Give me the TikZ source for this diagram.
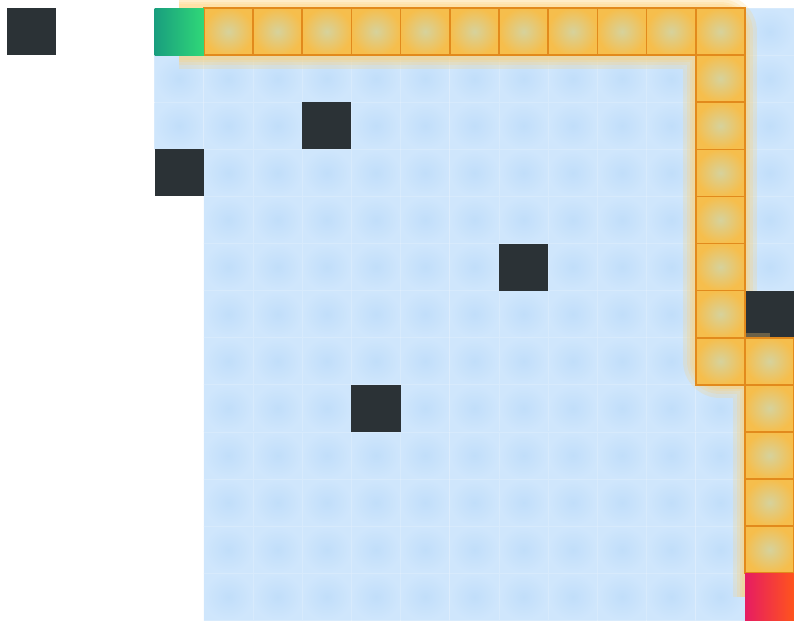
\documentclass[tikz,border=0pt]{standalone}
\usetikzlibrary{calc}
\definecolor{blueOut}{RGB}{207,230,252}
\definecolor{blueIn}{RGB}{193,222,250}
\definecolor{orOut}{RGB}{246,190,76}
\definecolor{orIn}{RGB}{214,210,156}
\definecolor{orLine}{RGB}{226,138,28}
\definecolor{glowC}{RGB}{255,208,115}
\definecolor{wallC}{RGB}{43,50,54}
\definecolor{startA}{RGB}{25,158,126}
\definecolor{startB}{RGB}{48,216,120}
\definecolor{endA}{RGB}{230,28,98}
\definecolor{endB}{RGB}{255,84,28}
\begin{document}
\begin{tikzpicture}[x=1pt,y=-1pt]
\def\cw{49.2}\def\ch{47.1}\def\ox{7}\def\oy{8}
\tikzset{
  cell/.style={minimum width=\cw pt, minimum height=\ch pt, inner sep=0pt, outer sep=0pt, anchor=north west},
  freecell/.style={cell, inner color=blueIn, outer color=blueOut, draw=white, draw opacity=0.18, line width=0.8pt},
  pathcell/.style={cell, inner color=orIn, outer color=orOut, draw=orLine, line width=1.6pt},
  wallcell/.style={cell, fill=wallC},
  startcell/.style={cell, left color=startA, right color=startB},
  endcell/.style={cell, shading=axis, shading angle=60, left color=endA, right color=endB},
  glow/.style={draw=glowC, line join=round, line cap=butt, opacity=0.22}
}
\useasboundingbox (0,0) rectangle (794,624);
% explored (light blue) region
\foreach \r in {1,2}{
  \node[freecell] (f-3-\r) at ({\ox+\cw*3},{\oy+\ch*\r}) {};
}
\foreach \c in {4,...,15}{
  \foreach \r in {0,...,12}{
    \node[freecell] (f-\c-\r) at ({\ox+\cw*\c},{\oy+\ch*\r}) {};
  }
}
% glow along the path
\coordinate (gA) at ({\ox+\cw*3.5},{\oy+\ch*0.5});
\coordinate (gB) at ({\ox+\cw*14.5},{\oy+\ch*0.5});
\coordinate (gC) at ({\ox+\cw*14.5},{\oy+\ch*7.5});
\coordinate (gD) at ({\ox+\cw*15.5},{\oy+\ch*7.5});
\coordinate (gE) at ({\ox+\cw*15.5},{\oy+\ch*12.5});
\foreach \g in {74,66,60,56}{
  \draw[glow, line width=\g pt] (gA) -- (gB) -- (gC) -- (gD) -- (gE);
}
% walls
\foreach \c/\r in {0/0,6/2,3/3,10/5,7/8,15/6}{
  \node[wallcell] (w-\c-\r) at ({\ox+\cw*\c},{\oy+\ch*\r}) {};
}
\draw[glow, line width=56pt, opacity=0.3] (gC) -- (gD);
% path cells
\foreach \c in {4,...,14}{
  \node[pathcell] (p-\c-0) at ({\ox+\cw*\c},{\oy}) {};
}
\foreach \r in {1,...,7}{
  \node[pathcell] (p-14-\r) at ({\ox+\cw*14},{\oy+\ch*\r}) {};
}
\foreach \r in {7,...,11}{
  \node[pathcell] (p-15-\r) at ({\ox+\cw*15},{\oy+\ch*\r}) {};
}
% start and end
\node[startcell] (start) at ({\ox+\cw*3},{\oy}) {};
\node[endcell] (goal) at ({\ox+\cw*15},{\oy+\ch*12}) {};
\end{tikzpicture}
\end{document}
